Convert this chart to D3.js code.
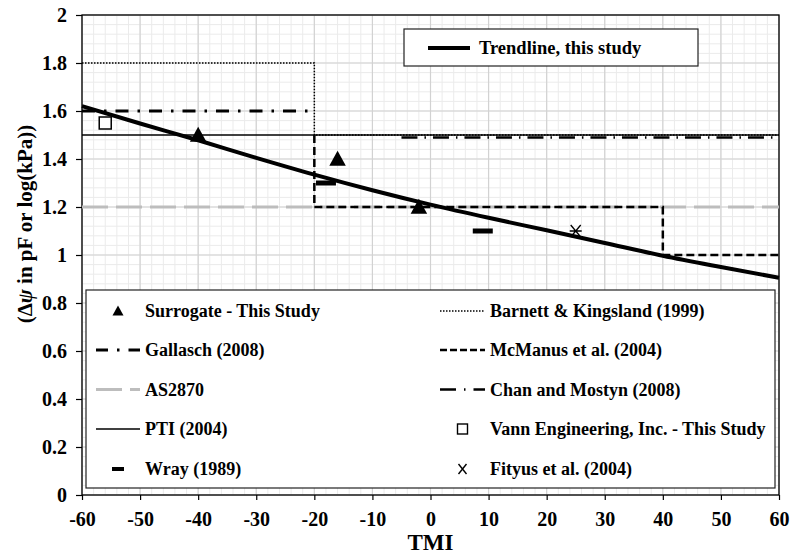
<!DOCTYPE html>
<html>
<head>
<meta charset="utf-8">
<script src="https://cdn.jsdelivr.net/npm/d3@7/dist/d3.min.js"></script>
<style>
  html, body { margin: 0; padding: 0; background: #fff; }
  svg text { font-family: "Liberation Serif", "DejaVu Serif", serif !important; font-weight: bold; fill: #000; }
</style>
</head>
<body>
<svg id="chart" width="790" height="554"></svg>
<script>
// ---- data ----
const xTicks = [-60, -50, -40, -30, -20, -10, 0, 10, 20, 30, 40, 50, 60];
const yTicks = [0, 0.2, 0.4, 0.6, 0.8, 1, 1.2, 1.4, 1.6, 1.8, 2];

// trendline of this study (TMI vs. suction change)
const trendTMI = [-60, -50, -40, -30, -20, -10, 0, 10, 20, 30, 40, 50, 60];
const trendVal = [1.62, 1.548, 1.478, 1.405, 1.335, 1.27, 1.21, 1.155, 1.103, 1.05, 0.997, 0.95, 0.905];

// surrogate method points, this study
const surrogateTMI = [-40, -16, -2];
const surrogateVal = [1.5, 1.4, 1.2];

// Vann Engineering point
const vannTMI = [-56];
const vannVal = [1.55];

// Wray (1989)
const wrayTMI = [-18, 9];
const wrayVal = [1.3, 1.1];

// Fityus et al. (2004)
const fityusTMI = [25];
const fityusVal = [1.1];

// design-value step lines
const barnettTMI = [-60, -20, -20, 60];
const barnettVal = [1.8, 1.8, 1.5, 1.5];
const gallaschTMI = [-60, -20];
const gallaschVal = [1.6, 1.6];
const mcmanusTMI = [-20, -20, 40, 40, 60];
const mcmanusVal = [1.5, 1.2, 1.2, 1.0, 1.0];
const as2870TMI = [-60, 60];
const as2870Val = [1.2, 1.2];
const ptiTMI = [-60, 60];
const ptiVal = [1.5, 1.5];
const chanTMI = [-5, 60];
const chanVal = [1.49, 1.49];

// ---- layout ----
const svg = d3.select("#chart");
const plotL = 82, plotR = 779, plotT = 15, plotB = 495;
const x = d3.scaleLinear().domain([-60, 60]).range([plotL, plotR]);
const y = d3.scaleLinear().domain([0, 2]).range([plotB, plotT]);

// grid
const grid = svg.append("g");
grid.selectAll(".vminor").data(d3.range(-60, 60.01, 2)).join("line")
  .attr("x1", d => x(d)).attr("x2", d => x(d)).attr("y1", plotT).attr("y2", plotB)
  .attr("stroke", "#ebebeb").attr("stroke-width", 1);
grid.selectAll(".hminor").data(d3.range(0, 100.01, 2).map(v => v / 50)).join("line")
  .attr("x1", plotL).attr("x2", plotR).attr("y1", d => y(d)).attr("y2", d => y(d))
  .attr("stroke", "#ebebeb").attr("stroke-width", 1);
grid.selectAll(".vmajor").data(xTicks).join("line")
  .attr("x1", d => x(d)).attr("x2", d => x(d)).attr("y1", plotT).attr("y2", plotB)
  .attr("stroke", "#d2d2d2").attr("stroke-width", 1.2);
grid.selectAll(".hmajor").data(yTicks).join("line")
  .attr("x1", plotL).attr("x2", plotR).attr("y1", d => y(d)).attr("y2", d => y(d))
  .attr("stroke", "#d2d2d2").attr("stroke-width", 1.2);

// axes
const fmt = d => String(+d.toFixed(1));
const xAxis = svg.append("g").attr("transform", `translate(0,${plotB})`)
  .call(d3.axisBottom(x).tickValues(xTicks).tickFormat(fmt).tickSize(5).tickSizeOuter(0));
const yAxis = svg.append("g").attr("transform", `translate(${plotL},0)`)
  .call(d3.axisLeft(y).tickValues(yTicks).tickFormat(fmt).tickSize(6).tickSizeOuter(0));
[xAxis, yAxis].forEach(a => {
  a.select(".domain").remove();
  a.attr("font-family", null);
  a.selectAll(".tick line").attr("stroke", "#000").attr("stroke-width", 1.2);
  a.selectAll(".tick text").attr("font-size", 20);
});
xAxis.selectAll(".tick text").attr("dy", null).attr("y", 31);
yAxis.selectAll(".tick text").attr("x", -15).attr("dy", "0.34em");

// plot frame
svg.append("rect").attr("x", plotL).attr("y", plotT).attr("width", plotR - plotL).attr("height", plotB - plotT)
  .attr("fill", "none").attr("stroke", "#000").attr("stroke-width", 1.3);

// series lines
const line = d3.line().x(d => x(d[0])).y(d => y(d[1]));
const zip = (a, b) => a.map((v, i) => [v, b[i]]);
const drawLine = (tx, vy, stroke, width, dash) => svg.append("path")
  .attr("d", line(zip(tx, vy))).attr("fill", "none").attr("stroke", stroke)
  .attr("stroke-width", width).attr("stroke-dasharray", dash || null);

drawLine(as2870TMI, as2870Val, "#bdbdbd", 3, "26,8");
drawLine(ptiTMI, ptiVal, "#000", 1.5);
drawLine(barnettTMI, barnettVal, "#000", 1.5, "1.5,1.5");
drawLine(gallaschTMI, gallaschVal, "#000", 3, "13,9,2.5,9");
drawLine(mcmanusTMI, mcmanusVal, "#000", 2.5, "8,4");
drawLine(chanTMI, chanVal, "#000", 2.5, "16,7,1.5,7");

// trendline
svg.append("path")
  .attr("d", d3.line().curve(d3.curveMonotoneX).x(d => x(d[0])).y(d => y(d[1]))(zip(trendTMI, trendVal)))
  .attr("fill", "none").attr("stroke", "#000").attr("stroke-width", 4);

// markers
const triPath = (s) => `M0,${-s * 0.55}L${s * 0.55},${s * 0.45}L${-s * 0.55},${s * 0.45}Z`;
svg.append("g").selectAll("path").data(zip(surrogateTMI, surrogateVal)).join("path")
  .attr("transform", d => `translate(${x(d[0])},${y(d[1])})`)
  .attr("d", triPath(15)).attr("fill", "#000");
svg.append("g").selectAll("rect").data(zip(vannTMI, vannVal)).join("rect")
  .attr("x", d => x(d[0]) - 6).attr("y", d => y(d[1]) - 6).attr("width", 12).attr("height", 12)
  .attr("fill", "#fff").attr("stroke", "#000").attr("stroke-width", 1.5);
svg.append("g").selectAll("rect").data(zip(wrayTMI, wrayVal)).join("rect")
  .attr("x", d => x(d[0]) - 10).attr("y", d => y(d[1]) - 2.5).attr("width", 20).attr("height", 5)
  .attr("fill", "#000");
svg.append("g").selectAll("path").data(zip(fityusTMI, fityusVal)).join("path")
  .attr("transform", d => `translate(${x(d[0])},${y(d[1])})`)
  .attr("d", "M-5,-6L5,6M-5,6L5,-6M-6,0L6,0").attr("stroke", "#000").attr("stroke-width", 1.3).attr("fill", "none");

// trendline legend
const lg1 = svg.append("g");
lg1.append("rect").attr("x", 404).attr("y", 29).attr("width", 294).attr("height", 37)
  .attr("fill", "#fff").attr("stroke", "#222").attr("stroke-width", 1.2);
lg1.append("line").attr("x1", 428).attr("x2", 470).attr("y1", 48).attr("y2", 48)
  .attr("stroke", "#000").attr("stroke-width", 4);
lg1.append("text").attr("x", 479).attr("y", 54).attr("font-size", 18.5).text("Trendline, this study");

// series legend
const lg2 = svg.append("g");
lg2.append("rect").attr("x", 86).attr("y", 290).attr("width", 689).attr("height", 198)
  .attr("fill", "#fff").attr("stroke", "#222").attr("stroke-width", 1.2);

const legendItems = [
  { col: 0, row: 0, label: "Surrogate - This Study", kind: "tri" },
  { col: 0, row: 1, label: "Gallasch (2008)", kind: "line", stroke: "#000", width: 3, dash: "12,9,2.5,9" },
  { col: 0, row: 2, label: "AS2870", kind: "line", stroke: "#bdbdbd", width: 3, dash: "26,8" },
  { col: 0, row: 3, label: "PTI (2004)", kind: "line", stroke: "#000", width: 1.5 },
  { col: 0, row: 4, label: "Wray (1989)", kind: "bar" },
  { col: 1, row: 0, label: "Barnett & Kingsland (1999)", kind: "line", stroke: "#000", width: 1.3, dash: "1.5,1.5" },
  { col: 1, row: 1, label: "McManus et al. (2004)", kind: "line", stroke: "#000", width: 2.5, dash: "7,3" },
  { col: 1, row: 2, label: "Chan and Mostyn (2008)", kind: "line", stroke: "#000", width: 2.5, dash: "16,8,1.5,8" },
  { col: 1, row: 3, label: "Vann Engineering, Inc. - This Study", kind: "square" },
  { col: 1, row: 4, label: "Fityus et al. (2004)", kind: "star" }
];
const colX = [{ l0: 96, l1: 140, tx: 145 }, { l0: 440, l1: 485, tx: 490 }];
const rowY = [311, 350, 389.5, 429, 469];

legendItems.forEach(it => {
  const c = colX[it.col], cy = rowY[it.row], cx = (c.l0 + c.l1) / 2;
  const g = lg2.append("g");
  if (it.kind === "line") {
    g.append("line").attr("x1", c.l0).attr("x2", c.l1).attr("y1", cy).attr("y2", cy)
      .attr("stroke", it.stroke).attr("stroke-width", it.width).attr("stroke-dasharray", it.dash || null);
  } else if (it.kind === "tri") {
    g.append("path").attr("transform", `translate(${cx},${cy})`).attr("d", triPath(10)).attr("fill", "#000");
  } else if (it.kind === "bar") {
    g.append("rect").attr("x", cx - 6).attr("y", cy - 2).attr("width", 12).attr("height", 4).attr("fill", "#000");
  } else if (it.kind === "square") {
    g.append("rect").attr("x", cx - 5).attr("y", cy - 5).attr("width", 10).attr("height", 10)
      .attr("fill", "#fff").attr("stroke", "#000").attr("stroke-width", 1.4);
  } else if (it.kind === "star") {
    g.append("path").attr("transform", `translate(${cx},${cy})`)
      .attr("d", "M-4,-5L4,5M-4,5L4,-5").attr("stroke", "#000").attr("stroke-width", 1.4);
  }
  g.append("text").attr("x", c.tx).attr("y", cy + 6).attr("font-size", 18).text(it.label);
});

// axis titles
svg.append("text").attr("x", x(0)).attr("y", 550).attr("text-anchor", "middle")
  .attr("font-size", 23).text("TMI");
const yt = svg.append("text").attr("transform", "translate(32,224) rotate(-90)")
  .attr("text-anchor", "middle").attr("font-size", 21);
yt.append("tspan").text("(Δ");
yt.append("tspan").attr("font-style", "italic").text("ψ");
yt.append("tspan").text(" in pF or log(kPa))");
</script>
</body>
</html>
